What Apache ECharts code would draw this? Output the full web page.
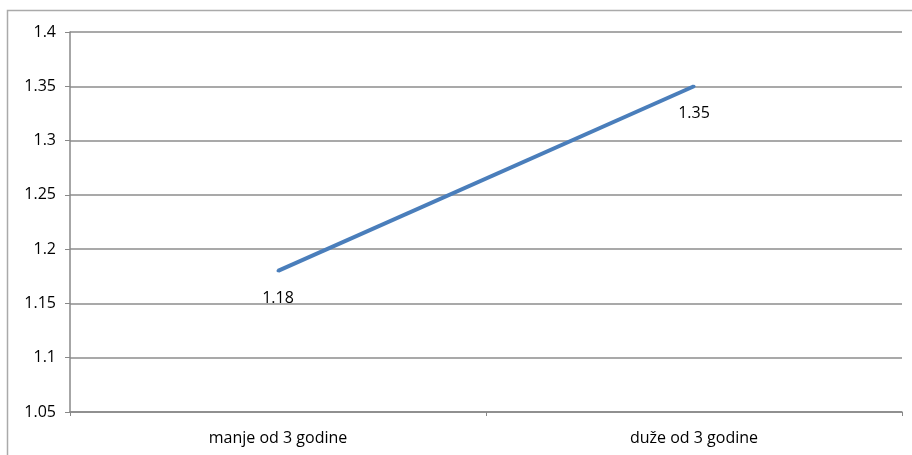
<!DOCTYPE html>
<html><head><meta charset="utf-8">
<script src="https://cdn.jsdelivr.net/npm/echarts@6/dist/echarts.min.js"></script>
<style>html,body{margin:0;padding:0;background:#fff}#c{width:912px;height:455px}</style>
</head><body><div id="c"></div>
<script>
var categories = ['manje od 3 godine', 'duže od 3 godine'];
var values = [1.18, 1.35];
var yMin = 1.05, yMax = 1.4, yStep = 0.05;

var chart = echarts.init(document.getElementById('c'), null, {renderer: 'canvas'});
chart.setOption({
  animation: false,
  backgroundColor: '#fff',
  textStyle: {fontFamily: '"Open Sans", "Liberation Sans", sans-serif'},
  graphic: [{
    type: 'rect', silent: true,
    shape: {x: 7.5, y: 10.5, width: 950, height: 500},
    style: {fill: 'none', stroke: '#aaaaaa', lineWidth: 1.5}
  }],
  grid: {left: 70, right: 10, top: 32, bottom: 43, containLabel: false},
  xAxis: {
    type: 'category', data: categories, boundaryGap: true,
    axisLine: {lineStyle: {color: '#888888', width: 1.5}},
    axisTick: {show: true, length: 4, lineStyle: {color: '#888888'}},
    axisLabel: {color: '#000', fontSize: 16, margin: 18}
  },
  yAxis: {
    type: 'value', min: yMin, max: yMax, interval: yStep,
    axisLine: {show: true, lineStyle: {color: '#888888', width: 1.5}},
    axisTick: {show: true, length: 5, lineStyle: {color: '#888888'}},
    splitLine: {lineStyle: {color: '#8c8c8c', width: 1.5}},
    axisLabel: {color: '#000', fontSize: 16, margin: 14,
      formatter: function (v) { return String(parseFloat(v.toFixed(2))); }}
  },
  series: [{
    type: 'line', data: values, symbol: 'circle', symbolSize: 3, showSymbol: true,
    itemStyle: {color: '#4a7ebb'},
    lineStyle: {color: '#4a7ebb', width: 4},
    label: {show: true, position: 'bottom', distance: 18, color: '#000', fontSize: 16,
      formatter: function (p) { return p.value.toFixed(2); }}
  }]
});
</script></body></html>
